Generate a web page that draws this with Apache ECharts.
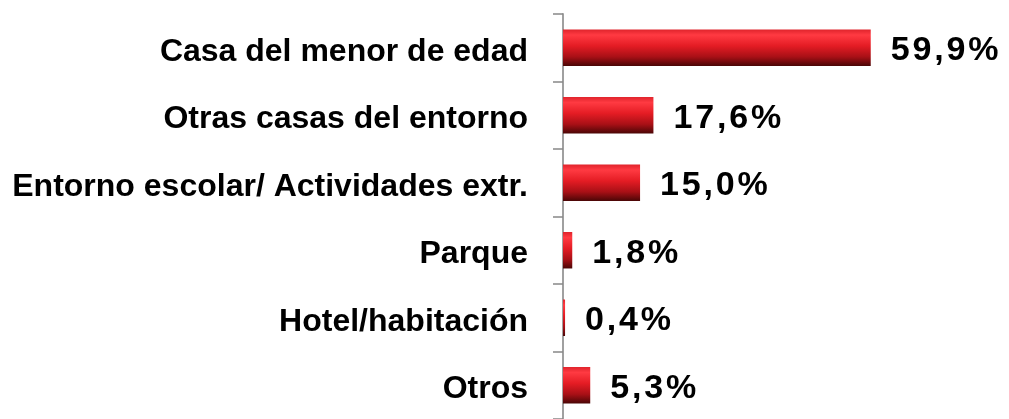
<!DOCTYPE html>
<html>
<head>
<meta charset="utf-8">
<script src="https://cdn.jsdelivr.net/npm/echarts@6/dist/echarts.min.js"></script>
<style>
  html, body { margin: 0; padding: 0; background: #fff; }
  #chart { width: 1009px; height: 419px; }
</style>
</head>
<body>
<div id="chart"></div>
<script>
// categorias y valores (%)
var categorias = ['Casa del menor de edad', 'Otras casas del entorno', 'Entorno escolar/ Actividades extr.', 'Parque', 'Hotel/habitación', 'Otros'];
var valores = [59.9, 17.6, 15.0, 1.8, 0.4, 5.3];

var chart = echarts.init(document.getElementById('chart'));

var barColor = new echarts.graphic.LinearGradient(0, 0, 0, 1, [
    { offset: 0, color: '#e0242c' },
    { offset: 0.15, color: '#ff3a42' },
    { offset: 0.45, color: '#e41c24' },
    { offset: 0.75, color: '#a81016' },
    { offset: 1, color: '#4a0606' }
]);

var option = {
    animation: false,
    grid: { left: 563, right: 35, top: 14, bottom: 0 },
    xAxis: {
        type: 'value',
        min: 0,
        max: 80,
        show: false
    },
    yAxis: {
        type: 'category',
        inverse: true,
        data: categorias,
        axisLine: { show: true, lineStyle: { color: '#a0a0a0', width: 2 } },
        axisTick: { show: true, inside: false, length: 10, lineStyle: { color: '#888', width: 1.5 } },
        axisLabel: {
            margin: 35,
            formatter: function (v) { return '{t|' + v + '}'; },
            rich: {
                t: {
                    color: '#000',
                    fontFamily: 'Liberation Sans, Arial',
                    fontWeight: 'bold',
                    fontSize: 32,
                    lineHeight: 36,
                    padding: [8, 0, 0, 0]
                }
            }
        }
    },
    series: [{
        type: 'bar',
        data: valores,
        barWidth: '54%',
        itemStyle: { color: barColor },
        label: {
            show: true,
            position: 'right',
            distance: 20,
            offset: [0, 3],
            color: '#000',
            fontFamily: 'Liberation Sans, Arial',
            fontWeight: 'bold',
            fontSize: 34,
            formatter: function (p) {
                var s = p.value.toFixed(1).replace('.', ',') + '%';
                return s.split('').join('\u200A');
            }
        }
    }]
};

chart.setOption(option);
</script>
</body>
</html>
